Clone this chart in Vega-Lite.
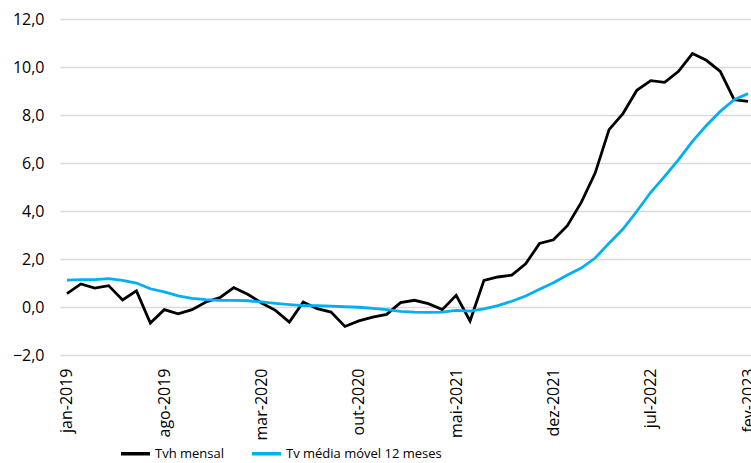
{
  "$schema": "https://vega.github.io/schema/vega-lite/v6.json",
  "autosize": "none",
  "width": 695,
  "height": 336,
  "padding": {"left": 60, "top": 19, "right": 0, "bottom": 108},
  "background": "white",
  "config": {
    "view": {"stroke": null},
    "font": "Open Sans",
    "axis": {"labelFont": "Open Sans", "labelColor": "#000000", "labelFontSize": 16},
    "legend": {"labelFont": "Open Sans", "labelFontSize": 13, "labelColor": "#000000"}
  },
  "datasets": {
    "d": [
      {"m":"jan-2019","s":"Tvh mensal","v":0.56},
      {"m":"fev-2019","s":"Tvh mensal","v":0.96},
      {"m":"mar-2019","s":"Tvh mensal","v":0.79},
      {"m":"abr-2019","s":"Tvh mensal","v":0.89},
      {"m":"mai-2019","s":"Tvh mensal","v":0.29},
      {"m":"jun-2019","s":"Tvh mensal","v":0.67},
      {"m":"jul-2019","s":"Tvh mensal","v":-0.67},
      {"m":"ago-2019","s":"Tvh mensal","v":-0.11},
      {"m":"set-2019","s":"Tvh mensal","v":-0.28},
      {"m":"out-2019","s":"Tvh mensal","v":-0.11},
      {"m":"nov-2019","s":"Tvh mensal","v":0.21},
      {"m":"dez-2019","s":"Tvh mensal","v":0.39},
      {"m":"jan-2020","s":"Tvh mensal","v":0.81},
      {"m":"fev-2020","s":"Tvh mensal","v":0.53},
      {"m":"mar-2020","s":"Tvh mensal","v":0.17},
      {"m":"abr-2020","s":"Tvh mensal","v":-0.14},
      {"m":"mai-2020","s":"Tvh mensal","v":-0.63},
      {"m":"jun-2020","s":"Tvh mensal","v":0.21},
      {"m":"jul-2020","s":"Tvh mensal","v":-0.07},
      {"m":"ago-2020","s":"Tvh mensal","v":-0.21},
      {"m":"set-2020","s":"Tvh mensal","v":-0.81},
      {"m":"out-2020","s":"Tvh mensal","v":-0.58},
      {"m":"nov-2020","s":"Tvh mensal","v":-0.42},
      {"m":"dez-2020","s":"Tvh mensal","v":-0.31},
      {"m":"jan-2021","s":"Tvh mensal","v":0.18},
      {"m":"fev-2021","s":"Tvh mensal","v":0.28},
      {"m":"mar-2021","s":"Tvh mensal","v":0.14},
      {"m":"abr-2021","s":"Tvh mensal","v":-0.11},
      {"m":"mai-2021","s":"Tvh mensal","v":0.49},
      {"m":"jun-2021","s":"Tvh mensal","v":-0.58},
      {"m":"jul-2021","s":"Tvh mensal","v":1.11},
      {"m":"ago-2021","s":"Tvh mensal","v":1.25},
      {"m":"set-2021","s":"Tvh mensal","v":1.33},
      {"m":"out-2021","s":"Tvh mensal","v":1.8},
      {"m":"nov-2021","s":"Tvh mensal","v":2.65},
      {"m":"dez-2021","s":"Tvh mensal","v":2.8},
      {"m":"jan-2022","s":"Tvh mensal","v":3.39},
      {"m":"fev-2022","s":"Tvh mensal","v":4.36},
      {"m":"mar-2022","s":"Tvh mensal","v":5.58},
      {"m":"abr-2022","s":"Tvh mensal","v":7.39},
      {"m":"mai-2022","s":"Tvh mensal","v":8.06},
      {"m":"jun-2022","s":"Tvh mensal","v":9.03},
      {"m":"jul-2022","s":"Tvh mensal","v":9.43},
      {"m":"ago-2022","s":"Tvh mensal","v":9.36},
      {"m":"set-2022","s":"Tvh mensal","v":9.82},
      {"m":"out-2022","s":"Tvh mensal","v":10.56},
      {"m":"nov-2022","s":"Tvh mensal","v":10.28},
      {"m":"dez-2022","s":"Tvh mensal","v":9.82},
      {"m":"jan-2023","s":"Tvh mensal","v":8.64},
      {"m":"fev-2023","s":"Tvh mensal","v":8.57},
      {"m":"jan-2019","s":"Tv média móvel 12 meses","v":1.12},
      {"m":"fev-2019","s":"Tv média móvel 12 meses","v":1.14},
      {"m":"mar-2019","s":"Tv média móvel 12 meses","v":1.14},
      {"m":"abr-2019","s":"Tv média móvel 12 meses","v":1.18},
      {"m":"mai-2019","s":"Tv média móvel 12 meses","v":1.11},
      {"m":"jun-2019","s":"Tv média móvel 12 meses","v":1.0},
      {"m":"jul-2019","s":"Tv média móvel 12 meses","v":0.76},
      {"m":"ago-2019","s":"Tv média móvel 12 meses","v":0.63},
      {"m":"set-2019","s":"Tv média móvel 12 meses","v":0.46},
      {"m":"out-2019","s":"Tv média móvel 12 meses","v":0.36},
      {"m":"nov-2019","s":"Tv média móvel 12 meses","v":0.31},
      {"m":"dez-2019","s":"Tv média móvel 12 meses","v":0.28},
      {"m":"jan-2020","s":"Tv média móvel 12 meses","v":0.28},
      {"m":"fev-2020","s":"Tv média móvel 12 meses","v":0.26},
      {"m":"mar-2020","s":"Tv média móvel 12 meses","v":0.21},
      {"m":"abr-2020","s":"Tv média móvel 12 meses","v":0.15},
      {"m":"mai-2020","s":"Tv média móvel 12 meses","v":0.10},
      {"m":"jun-2020","s":"Tv média móvel 12 meses","v":0.06},
      {"m":"jul-2020","s":"Tv média móvel 12 meses","v":0.06},
      {"m":"ago-2020","s":"Tv média móvel 12 meses","v":0.04},
      {"m":"set-2020","s":"Tv média móvel 12 meses","v":0.01},
      {"m":"out-2020","s":"Tv média móvel 12 meses","v":-0.01},
      {"m":"nov-2020","s":"Tv média móvel 12 meses","v":-0.06},
      {"m":"dez-2020","s":"Tv média móvel 12 meses","v":-0.11},
      {"m":"jan-2021","s":"Tv média móvel 12 meses","v":-0.18},
      {"m":"fev-2021","s":"Tv média móvel 12 meses","v":-0.21},
      {"m":"mar-2021","s":"Tv média móvel 12 meses","v":-0.22},
      {"m":"abr-2021","s":"Tv média móvel 12 meses","v":-0.21},
      {"m":"mai-2021","s":"Tv média móvel 12 meses","v":-0.14},
      {"m":"jun-2021","s":"Tv média móvel 12 meses","v":-0.17},
      {"m":"jul-2021","s":"Tv média móvel 12 meses","v":-0.08},
      {"m":"ago-2021","s":"Tv média móvel 12 meses","v":0.06},
      {"m":"set-2021","s":"Tv média móvel 12 meses","v":0.24},
      {"m":"out-2021","s":"Tv média móvel 12 meses","v":0.46},
      {"m":"nov-2021","s":"Tv média móvel 12 meses","v":0.74},
      {"m":"dez-2021","s":"Tv média móvel 12 meses","v":1.01},
      {"m":"jan-2022","s":"Tv média móvel 12 meses","v":1.33},
      {"m":"fev-2022","s":"Tv média móvel 12 meses","v":1.62},
      {"m":"mar-2022","s":"Tv média móvel 12 meses","v":2.04},
      {"m":"abr-2022","s":"Tv média móvel 12 meses","v":2.66},
      {"m":"mai-2022","s":"Tv média móvel 12 meses","v":3.25},
      {"m":"jun-2022","s":"Tv média móvel 12 meses","v":3.99},
      {"m":"jul-2022","s":"Tv média móvel 12 meses","v":4.78},
      {"m":"ago-2022","s":"Tv média móvel 12 meses","v":5.44},
      {"m":"set-2022","s":"Tv média móvel 12 meses","v":6.14},
      {"m":"out-2022","s":"Tv média móvel 12 meses","v":6.9},
      {"m":"nov-2022","s":"Tv média móvel 12 meses","v":7.56},
      {"m":"dez-2022","s":"Tv média móvel 12 meses","v":8.15},
      {"m":"jan-2023","s":"Tv média móvel 12 meses","v":8.64},
      {"m":"fev-2023","s":"Tv média móvel 12 meses","v":8.89}
    ]
  },
  "data": {"name": "d"},
  "mark": {"type": "line", "strokeWidth": 2.8, "strokeJoin": "miter"},
  "encoding": {
    "x": {
      "field": "m", "type": "ordinal", "sort": null,
      "scale": {"type": "point", "padding": 0.5},
      "axis": {
        "title": null, "values": ["jan-2019","ago-2019","mar-2020","out-2020","mai-2021","dez-2021","jul-2022","fev-2023"],
        "labelAngle": -90, "ticks": false, "domain": false, "grid": false, "labelPadding": 13, "labelFontSize": 16
      }
    },
    "y": {
      "field": "v", "type": "quantitative",
      "scale": {"domain": [-2, 12], "nice": false, "zero": false},
      "axis": {
        "title": null, "values": [-2, 0, 2, 4, 6, 8, 10, 12],
        "labelExpr": "replace(format(datum.value, '.1f'), '.', ',')",
        "ticks": false, "domain": false, "grid": true, "gridColor": "#d9d9d9", "gridWidth": 1.3,
        "labelPadding": 16, "labelFontSize": 16
      }
    },
    "color": {
      "field": "s", "type": "nominal", "sort": null,
      "scale": {"domain": ["Tvh mensal", "Tv média móvel 12 meses"], "range": ["#000000", "#00b0f0"]},
      "legend": {
        "title": null, "orient": "none", "direction": "horizontal",
        "legendX": 59, "legendY": 418, "labelLimit": 400,
        "symbolType": "stroke", "symbolSize": 841, "symbolStrokeWidth": 3.5,
        "columnPadding": 20, "labelOffset": 3
      }
    }
  }
}
